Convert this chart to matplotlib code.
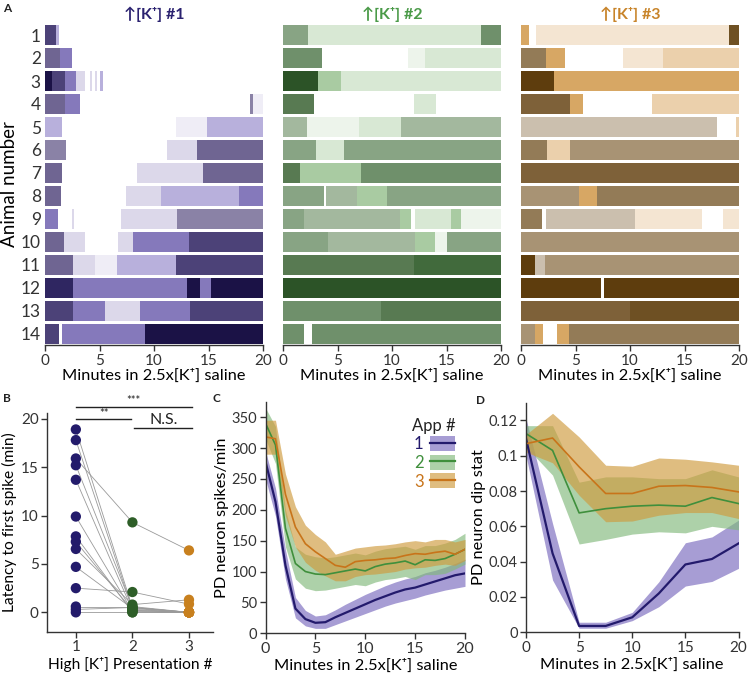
import matplotlib
matplotlib.use("Agg")
import matplotlib.pyplot as plt
from matplotlib.patches import Patch
from matplotlib.lines import Line2D

plt.rcParams['font.family'] = ['Lato', 'DejaVu Sans']
plt.rcParams['axes.edgecolor'] = '#333333'
plt.rcParams['xtick.color'] = '#333333'
plt.rcParams['ytick.color'] = '#333333'
plt.rcParams['text.color'] = '#222222'

# ---------------- Panel A data: (start_min, end_min, intensity level 0-9) per animal ----
raster1 = [
    [(0, 1.0, 7), (1.0, 1.3, 3)],
    [(0, 1.4, 6), (1.4, 2.5, 4)],
    [(0, 0.6, 9), (0.6, 1.8, 7), (1.8, 2.8, 4), (2.8, 3.7, 2), (4.1, 4.3, 2), (4.6, 4.8, 2), (5.0, 5.3, 3)],
    [(0, 1.8, 6), (1.8, 3.2, 4), (18.8, 19.1, 5), (19.1, 20, 1)],
    [(0, 1.6, 3), (12.0, 14.9, 1), (14.9, 20, 3)],
    [(0, 1.9, 5), (11.2, 13.9, 2), (13.9, 20, 6)],
    [(0, 1.6, 6), (8.4, 14.5, 2), (14.5, 20, 6)],
    [(0, 1.5, 6), (7.4, 10.6, 2), (10.6, 17.8, 3), (17.8, 20, 4)],
    [(0, 1.2, 4), (2.5, 2.65, 2), (7.0, 12.1, 2), (12.1, 20, 5)],
    [(0, 1.7, 6), (1.7, 3.7, 2), (6.7, 8.1, 2), (8.1, 13.2, 4), (13.2, 20, 7)],
    [(0, 2.6, 6), (2.6, 4.6, 2), (4.6, 6.6, 1), (6.6, 12.0, 3), (12.0, 20, 7)],
    [(0, 2.6, 8), (2.6, 13.0, 4), (13.0, 14.2, 9), (14.2, 15.2, 4), (15.2, 20, 9)],
    [(0, 2.6, 7), (2.6, 5.5, 4), (5.5, 8.7, 2), (8.7, 13.3, 4), (13.3, 20, 7)],
    [(0, 1.3, 7), (1.6, 9.2, 4), (9.2, 20, 9)],
]
raster2 = [
    [(0, 2.25, 5), (2.25, 18.2, 2), (18.2, 20, 6)],
    [(0, 3.6, 6), (11.5, 13.0, 1), (13.0, 20, 2)],
    [(0, 3.2, 9), (3.2, 5.3, 3), (5.3, 20, 2)],
    [(0, 2.8, 7), (12.0, 14.0, 2)],
    [(0, 2.2, 4), (2.2, 7.0, 1), (7.0, 10.8, 2), (10.8, 20, 4)],
    [(0, 3.0, 5), (3.0, 5.6, 2), (5.6, 20, 5)],
    [(0, 1.6, 7), (1.6, 7.2, 3), (7.2, 20, 6)],
    [(0, 3.8, 5), (3.9, 6.8, 4), (6.8, 9.5, 3), (9.5, 20, 5)],
    [(0, 1.9, 5), (1.9, 10.7, 4), (10.7, 11.7, 3), (12.1, 15.4, 2), (15.4, 16.3, 3), (16.3, 20, 1)],
    [(0, 4.1, 5), (4.1, 12.1, 4), (12.1, 13.9, 3), (13.9, 15.0, 1), (15.0, 20, 5)],
    [(0, 12.0, 7), (12.0, 20, 8)],
    [(0, 20, 9)],
    [(0, 9.0, 6), (9.0, 20, 7)],
    [(0, 1.9, 6), (2.7, 20, 6)],
]
raster3 = [
    [(0, 0.7, 3), (1.35, 18.1, 1), (18.1, 19.1, 1), (19.1, 20, 8)],
    [(0, 2.3, 6), (2.3, 4.0, 3), (9.4, 13.0, 1), (13.0, 20, 2)],
    [(0, 3.0, 9), (3.0, 20, 3)],
    [(0, 4.5, 7), (4.5, 5.7, 3), (12.0, 20, 2)],
    [(0, 18.0, 4), (19.7, 20, 2)],
    [(0, 2.4, 6), (2.4, 4.5, 2), (4.5, 20, 5)],
    [(0, 20, 7)],
    [(0, 5.3, 5), (5.3, 7.0, 3), (7.0, 20, 6)],
    [(0, 1.9, 6), (2.3, 10.5, 4), (10.5, 16.6, 1), (18.5, 20, 1)],
    [(0, 20, 5)],
    [(0, 1.3, 9), (1.3, 2.2, 4), (2.2, 20, 5)],
    [(0, 7.3, 9), (7.6, 20, 9)],
    [(0, 10.0, 7), (10.0, 20, 8)],
    [(0, 1.3, 5), (1.3, 2.0, 3), (3.3, 4.4, 3), (4.4, 20, 6)],
]
purple_levels = ['#ffffff', '#efedf6', '#dcd8ea', '#b8b0dc', '#8579bb', '#8a82a6',
                 '#6f6592', '#4c4278', '#2f2661', '#1b1246']
green_levels = ['#ffffff', '#edf4eb', '#d8e8d4', '#a9cba2', '#a3b89e', '#88a484',
                '#6f906b', '#587a52', '#416a3c', '#2c5327']
orange_levels = ['#ffffff', '#f4e5d2', '#ebd0ac', '#d7a764', '#cbbfae', '#a89374',
                 '#937b57', '#7e6139', '#6e5023', '#5e3d0d']
titles = ['↑[K⁺] #1', '↑[K⁺] #2', '↑[K⁺] #3']
title_colors = ['#2b2270', '#4a9a48', '#c8842a']
animals = list(range(1, 15))

# ---------------- Panel B data ----------------
lat_app1 = [18.9, 17.8, 15.9, 15.2, 13.7, 9.9, 7.85, 7.3, 6.55, 4.7, 2.5, 0.6, 0.3, 0.0]
lat_app2 = [0.5, 0.3, 9.3, 0.5, 0.2, 0.1, 0.0, 0.2, 0.8, 0.4, 2.1, 0.6, 0.5, 0.0]
lat_app3 = [0.0, 0.0, 6.4, 0.0, 0.0, 0.0, 0.0, 0.0, 1.3, 0.0, 0.85, 0.0, 0.0, 0.0]

# ---------------- Panel C data ----------------
t_rate = list(range(0, 21))
rate1 = [278, 213, 110, 40, 23, 17, 18, 26, 33, 40, 47, 54, 60, 66, 71, 74, 79, 84, 89, 94, 97]
rate1_hi = [295, 235, 135, 58, 37, 28, 30, 38, 47, 55, 63, 70, 77, 83, 88, 92, 98, 102, 107, 113, 120]
rate1_lo = [250, 190, 88, 25, 12, 8, 8, 14, 20, 26, 32, 38, 44, 49, 53, 57, 62, 66, 70, 73, 76]
rate2 = [340, 305, 170, 113, 100, 96, 95, 98, 101, 104, 101, 108, 112, 114, 117, 111, 119, 118, 121, 128, 136]
rate2_hi = [365, 335, 200, 140, 128, 124, 122, 124, 127, 130, 127, 133, 137, 139, 141, 136, 142, 142, 146, 152, 162]
rate2_lo = [315, 275, 140, 88, 73, 69, 70, 73, 76, 79, 77, 83, 87, 89, 92, 87, 95, 95, 97, 104, 112]
rate3 = [318, 315, 225, 172, 145, 132, 121, 110, 107, 116, 118, 119, 121, 122, 126, 129, 128, 131, 133, 128, 136]
rate3_hi = [345, 345, 258, 205, 175, 160, 148, 128, 133, 138, 140, 142, 143, 145, 148, 150, 148, 152, 152, 148, 152]
rate3_lo = [290, 290, 190, 140, 115, 102, 93, 85, 85, 92, 95, 96, 98, 100, 104, 106, 107, 110, 112, 110, 118]

# ---------------- Panel D data ----------------
t_dip = [0, 2.5, 5, 7.5, 10, 12.5, 15, 17.5, 20]
dip1 = [0.1097, 0.0447, 0.0036, 0.0036, 0.0085, 0.022, 0.0384, 0.0415, 0.0503]
dip1_hi = [0.121, 0.0616, 0.0057, 0.0057, 0.0113, 0.0286, 0.0507, 0.054, 0.0635]
dip1_lo = [0.100, 0.0296, 0.0023, 0.0023, 0.0066, 0.0145, 0.0262, 0.0288, 0.0362]
dip2 = [0.1125, 0.103, 0.0676, 0.070, 0.0714, 0.072, 0.0714, 0.0763, 0.0729]
dip2_hi = [0.117, 0.117, 0.085, 0.088, 0.088, 0.087, 0.087, 0.092, 0.088]
dip2_lo = [0.105, 0.089, 0.050, 0.0526, 0.0556, 0.0569, 0.0563, 0.060, 0.058]
dip3 = [0.1068, 0.110, 0.0937, 0.0786, 0.0786, 0.0827, 0.0831, 0.082, 0.0795]
dip3_hi = [0.112, 0.124, 0.1106, 0.0946, 0.094, 0.0987, 0.098, 0.0965, 0.0946]
dip3_lo = [0.102, 0.096, 0.0776, 0.0626, 0.063, 0.0663, 0.0678, 0.0678, 0.0644]

line_colors = ['#231a6c', '#3f8f3c', '#c8741a']
fill_colors = ['#8a7cc6', '#82b97c', '#cf9a3c']
fill_alpha = [0.75, 0.65, 0.65]
dot_colors = ['#231b6b', '#2e5e28', '#c8801e']

W, H = 748, 681
fig = plt.figure(figsize=(W / 100, H / 100), dpi=100)


def ax_px(left, top, right, bottom):
    return fig.add_axes([left / W, 1 - bottom / H, (right - left) / W, (bottom - top) / H])


def style(ax):
    for s in ['top', 'right']:
        ax.spines[s].set_visible(False)
    ax.spines['left'].set_linewidth(1.0)
    ax.spines['bottom'].set_linewidth(1.0)
    ax.tick_params(length=4, width=1.0, labelsize=10.5, pad=2)


# ---------------- Panel A ----------------
lefts = [45, 283, 521]
rasters = [raster1, raster2, raster3]
palettes = [purple_levels, green_levels, orange_levels]
for k in range(3):
    ax = ax_px(lefts[k], 23.5, lefts[k] + 218, 345.5)
    for i, segs in enumerate(rasters[k]):
        row = animals[i]
        for (s, e, lev) in segs:
            if lev == 0:
                continue
            ax.broken_barh([(s, e - s)], (row - 0.43, 0.86),
                           facecolors=palettes[k][lev], edgecolor='none')
    ax.set_xlim(0, 20)
    ax.set_ylim(14.5, 0.5)
    for s in ['top', 'right', 'left']:
        ax.spines[s].set_visible(False)
    ax.spines['bottom'].set_linewidth(1.0)
    ax.set_xticks([0, 5, 10, 15, 20])
    ax.tick_params(axis='x', length=4, width=1.0, labelsize=11, pad=2)
    ax.set_xlabel('Minutes in 2.5x[K⁺] saline', fontsize=11.8, labelpad=1)
    if k == 0:
        ax.set_yticks(animals)
        ax.set_yticklabels([str(a) for a in animals])
        ax.tick_params(axis='y', length=0, labelsize=12.5, pad=3)
        ax.set_ylabel('Animal number', fontsize=13.5, labelpad=2)
    else:
        ax.set_yticks([])
    ax.set_title(titles[k], color=title_colors[k], fontsize=11.5, fontweight='bold', pad=3)

# ---------------- Panel B ----------------
axB = ax_px(47, 413, 213.3, 631.7)
for i in range(len(lat_app1)):
    axB.plot([1, 2], [lat_app1[i], lat_app2[i]], color='#9a9a9a', lw=0.6, zorder=1)
    axB.plot([2, 3], [lat_app2[i], lat_app3[i]], color='#9a9a9a', lw=0.6, zorder=1)
for x, vals, c in zip([1, 2, 3], [lat_app1, lat_app2, lat_app3], dot_colors):
    axB.scatter([x] * len(vals), vals, s=55, color=c, zorder=3, clip_on=False, edgecolors='none')
axB.set_xlim(0.49, 3.43)
axB.set_ylim(-2, 20.6)
axB.set_xticks([1, 2, 3])
axB.set_yticks([0, 5, 10, 15, 20])
style(axB)
axB.tick_params(labelsize=11)
axB.set_ylabel('Latency to first spike (min)', fontsize=11.2, labelpad=3)
axB.set_xlabel('High [K⁺] Presentation #', fontsize=11.2, labelpad=2)
# significance bars
axB.plot([1, 3.05], [21.27, 21.27], color='#222222', lw=1.0, clip_on=False)
axB.plot([1, 1.98], [20.0, 20.0], color='#222222', lw=1.0, clip_on=False)
axB.plot([2.03, 3.05], [19.0, 19.0], color='#222222', lw=1.0, clip_on=False)
axB.text(2.02, 21.3, '***', ha='center', va='bottom', fontsize=8)
axB.text(1.5, 20.0, '**', ha='center', va='bottom', fontsize=8)
axB.text(2.55, 19.15, 'N.S.', ha='center', va='bottom', fontsize=11.5)

# ---------------- Panel C ----------------
axC = ax_px(265.5, 401.7, 465, 633.3)
rate_sets = [(rate1, rate1_lo, rate1_hi), (rate2, rate2_lo, rate2_hi), (rate3, rate3_lo, rate3_hi)]
for k, (m, lo, hi) in enumerate(rate_sets):
    axC.fill_between(t_rate, lo, hi, color=fill_colors[k], alpha=fill_alpha[k], lw=0)
for k, (m, lo, hi) in enumerate(rate_sets):
    axC.plot(t_rate, m, color=line_colors[k], lw=1.6 if k == 0 else 1.2)
axC.set_xlim(0, 20)
axC.set_ylim(0, 375)
axC.set_xticks([0, 5, 10, 15, 20])
axC.set_yticks(range(0, 351, 50))
style(axC)
axC.tick_params(axis='x', labelsize=11.5)
axC.set_ylabel('PD neuron spikes/min', fontsize=11.8, labelpad=2)
axC.set_xlabel('Minutes in 2.5x[K⁺] saline', fontsize=11.8, labelpad=2)
handles = [(Patch(facecolor=fill_colors[k], alpha=fill_alpha[k], edgecolor='none'),
            Line2D([], [], color=line_colors[k], lw=1.6)) for k in range(3)]
leg = axC.legend(handles, ['1', '2', '3'], title='App #', markerfirst=False, frameon=False,
                 loc='upper right', bbox_to_anchor=(0.985, 0.96), borderaxespad=0,
                 handlelength=1.5, handleheight=1.0, labelspacing=0.15, handletextpad=0.4,
                 fontsize=12, title_fontsize=12, labelcolor=line_colors, alignment='right')

# ---------------- Panel D ----------------
axD = ax_px(526, 402.7, 738.5, 632.3)
dip_sets = [(dip1, dip1_lo, dip1_hi), (dip2, dip2_lo, dip2_hi), (dip3, dip3_lo, dip3_hi)]
for k, (m, lo, hi) in enumerate(dip_sets):
    axD.fill_between(t_dip, lo, hi, color=fill_colors[k], alpha=fill_alpha[k], lw=0)
for k, (m, lo, hi) in enumerate(dip_sets):
    axD.plot(t_dip, m, color=line_colors[k], lw=1.6 if k == 0 else 1.2)
axD.set_xlim(0, 20)
axD.set_ylim(0, 0.13)
axD.set_xticks([0, 5, 10, 15, 20])
axD.set_yticks([0, 0.02, 0.04, 0.06, 0.08, 0.1, 0.12])
axD.set_yticklabels(['0', '0.02', '0.04', '0.06', '0.08', '0.1', '0.12'])
style(axD)
axD.tick_params(axis='x', labelsize=11)
axD.set_ylabel('PD neuron dip stat', fontsize=11.8, labelpad=2)
axD.set_xlabel('Minutes in 2.5x[K⁺] saline', fontsize=11.8, labelpad=2)

# panel letters
for lab, x, y in [('A', 3, 9), ('B', 3, 398), ('C', 213, 398), ('D', 476, 400)]:
    fig.text(x / W, 1 - y / H, lab, fontsize=8.5, fontweight='bold', va='center', ha='left')

fig.savefig('out.png', dpi=100)
